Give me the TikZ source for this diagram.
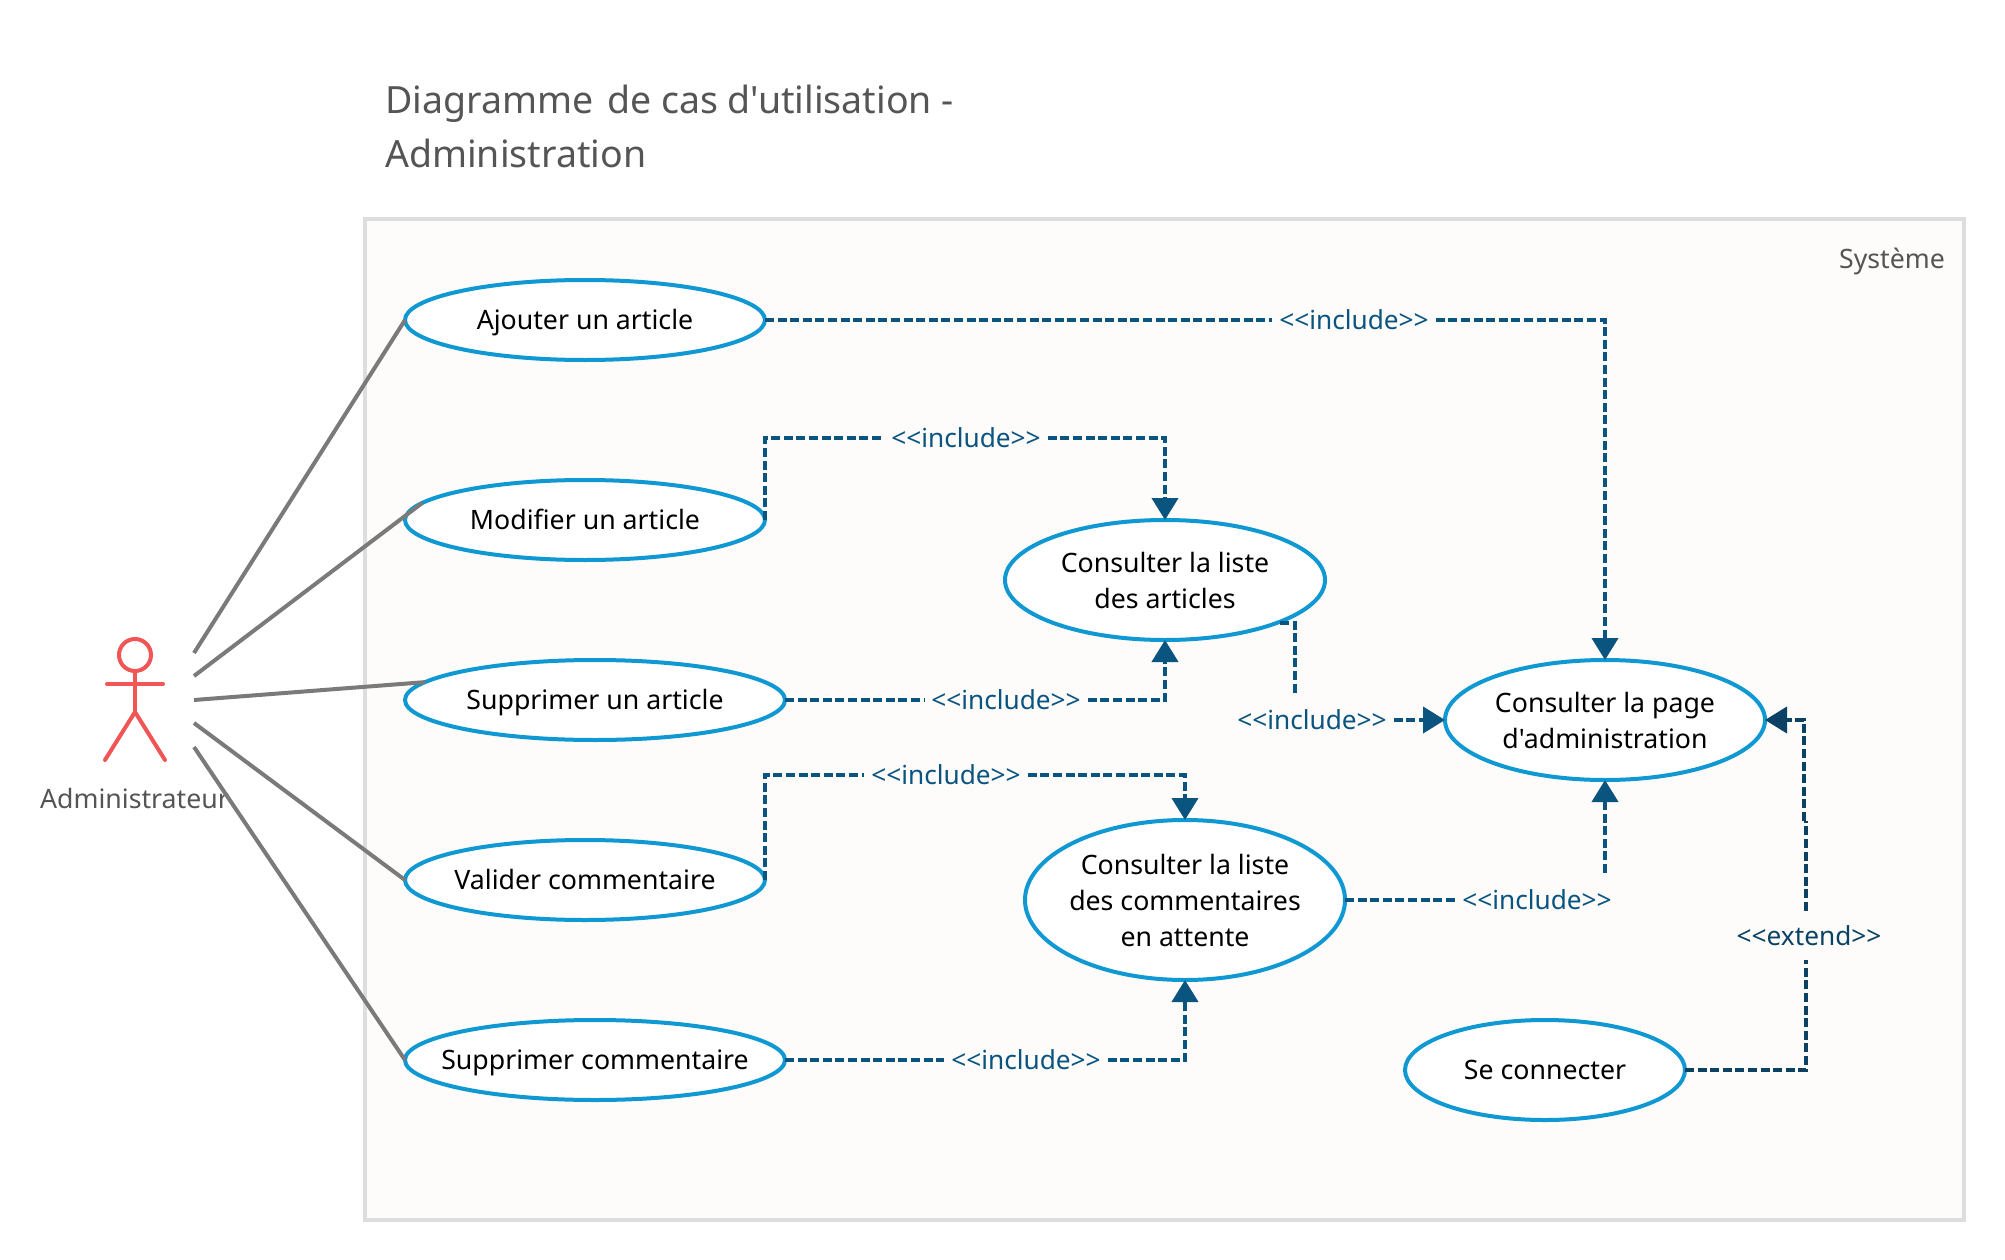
\documentclass[tikz,border=0pt]{standalone}
\usepackage{fontspec}
\newfontfamily\nsans{Noto Sans}
\usetikzlibrary{shapes.geometric,arrows.meta}
\definecolor{boxline}{HTML}{DDDDDD}
\definecolor{boxfill}{HTML}{FDFCFB}
\definecolor{ucblue}{HTML}{0F98D2}
\definecolor{dep}{HTML}{0A5480}
\definecolor{ext}{HTML}{0B4263}
\definecolor{actorred}{HTML}{F25555}
\definecolor{assoc}{HTML}{7A7A7A}
\definecolor{greytxt}{HTML}{555555}
\tikzset{
 usecase/.style={ellipse,draw=ucblue,line width=4pt,fill=white,inner xsep=-35pt,inner ysep=-15pt,outer sep=0pt,align=center,text=black,font=\nsans\fontsize{26.7}{36}\selectfont},
 oneline/.style={text height=19pt,text depth=0pt},
 deplabel/.style={inner xsep=7pt,inner ysep=4pt,text=dep,font=\nsans\fontsize{26.2}{32}\selectfont},
 extlabel/.style={inner xsep=7pt,inner ysep=4pt,text=ext,font=\nsans\fontsize{26.2}{32}\selectfont},
 depline/.style={draw=dep,line width=4pt,dash pattern=on 9pt off 3.6pt},
 extline/.style={draw=ext,line width=4pt,dash pattern=on 9pt off 3.6pt},
 deparrow/.style={depline,-{Triangle[length=22pt,width=26pt,fill=dep]}},
 extarrow/.style={extline,-{Triangle[length=22pt,width=26pt,fill=ext]}},
 assocline/.style={draw=assoc,line width=4pt},
 actorline/.style={draw=actorred,line width=4pt,line cap=round}
}
\begin{document}
\begin{tikzpicture}[x=1pt,y=-1pt]
\useasboundingbox (0,0) rectangle (2005,1260);
\node[anchor=north west,inner sep=0pt,align=left,text=greytxt,font=\nsans\fontsize{37.5}{54}\selectfont] (title) at (385,85) {Diagramme\hspace{4pt} de cas d'utilisation -\\Administration};
\node[draw=boxline,fill=boxfill,line width=4pt,minimum width=1599pt,minimum height=1001pt,inner sep=0pt,outer sep=0pt,anchor=north west] (sys) at (365,219) {};
\node[text=greytxt,inner sep=0pt,font=\nsans\fontsize{26.7}{32}\selectfont] (systxt) at (1892,261) {Système};
% actor
\coordinate (head) at (135,655);
\draw[actorline] (head) circle (16);
\coordinate (neck) at (135,671);
\coordinate (hip) at (135,712);
\coordinate (armL) at (107,684);
\coordinate (armR) at (163,684);
\coordinate (footL) at (105,760);
\coordinate (footR) at (165,760);
\draw[actorline] (neck) -- (hip);
\draw[actorline] (armL) -- (armR);
\draw[actorline] (footL) -- (hip) -- (footR);
\node[text=greytxt,inner sep=0pt,font=\nsans\fontsize{26.7}{32}\selectfont] (actor) at (134.5,798) {Administrateur};
% use cases
\node[usecase,oneline,minimum width=360pt,minimum height=80pt] (ua) at (585,320) {Ajouter un article};
\node[usecase,oneline,minimum width=360pt,minimum height=80pt] (um) at (585,520) {Modifier un article};
\node[usecase,oneline,minimum width=380pt,minimum height=80pt] (us) at (595,700) {Supprimer un article};
\node[usecase,oneline,minimum width=360pt,minimum height=80pt] (uv) at (585,880) {Valider commentaire};
\node[usecase,oneline,minimum width=380pt,minimum height=80pt] (uc) at (595,1060) {Supprimer commentaire};
\node[usecase,minimum width=320pt,minimum height=120pt] (la) at (1165,580) {Consulter la liste\\des articles};
\node[usecase,minimum width=320pt,minimum height=120pt] (pa) at (1605,720) {Consulter la page\\d'administration};
\node[usecase,minimum width=320pt,minimum height=160pt] (lc) at (1185,900) {Consulter la liste\\des commentaires\\en attente};
\node[usecase,oneline,minimum width=280pt,minimum height=100pt] (co) at (1545,1070) {Se connecter};
% associations
\coordinate (f1) at (194,653);
\coordinate (f2) at (194,676);
\coordinate (f3) at (194,700);
\coordinate (f4) at (194,723);
\coordinate (f5) at (194,747);
\draw[assocline] (f1) -- (ua.180);
\draw[assocline] (f2) -- (um.174);
\draw[assocline] (f3) -- (us.174);
\draw[assocline] (f4) -- (uv.180);
\draw[assocline] (f5) -- (uc.180);
% labels
\node[deplabel] (l1) at (1354,320) {<<include>>};
\node[deplabel] (l2) at (966,438) {<<include>>};
\node[deplabel] (l3) at (1006,700) {<<include>>};
\node[deplabel] (l4) at (1312,720) {<<include>>};
\node[deplabel] (l5) at (946,775) {<<include>>};
\node[deplabel] (l6) at (1026,1060) {<<include>>};
\node[deplabel] (l7) at (1537,900) {<<include>>};
\node[extlabel] (l8) at (1809,936) {<<extend>>};
% dependencies
\draw[depline] (ua.east) -- (l1.west);
\draw[deparrow] (l1.east) -| (pa.north);
\draw[depline] (um.east) |- (l2.west);
\draw[deparrow] (l2.east) -| (la.north);
\draw[depline] (us.east) -- (l3.west);
\draw[deparrow] (l3.east) -| (la.south);
\coordinate (c4) at (1295,693);
\coordinate (c4s) at (1280,623);
\draw[depline] (c4s) -| (c4);
\draw[deparrow] (l4.east) -- (pa.west);
\draw[depline] (uv.east) |- (l5.west);
\draw[deparrow] (l5.east) -| (lc.north);
\draw[depline] (uc.east) -- (l6.west);
\draw[deparrow] (l6.east) -| (lc.south);
\draw[depline] (lc.east) -- (l7.west);
\coordinate (c7) at (1605,873);
\draw[deparrow] (c7) -- (pa.south);
\coordinate (c8) at (1806,960);
\draw[extline] (co.east) -| (c8);
\coordinate (c9) at (1806,911);
\coordinate (c10) at (1806,821);
\coordinate (c11) at (1804,821);
\draw[extline] (c9) -- (c10);
\draw[extarrow] (c11) |- (pa.east);
\end{tikzpicture}
\end{document}
